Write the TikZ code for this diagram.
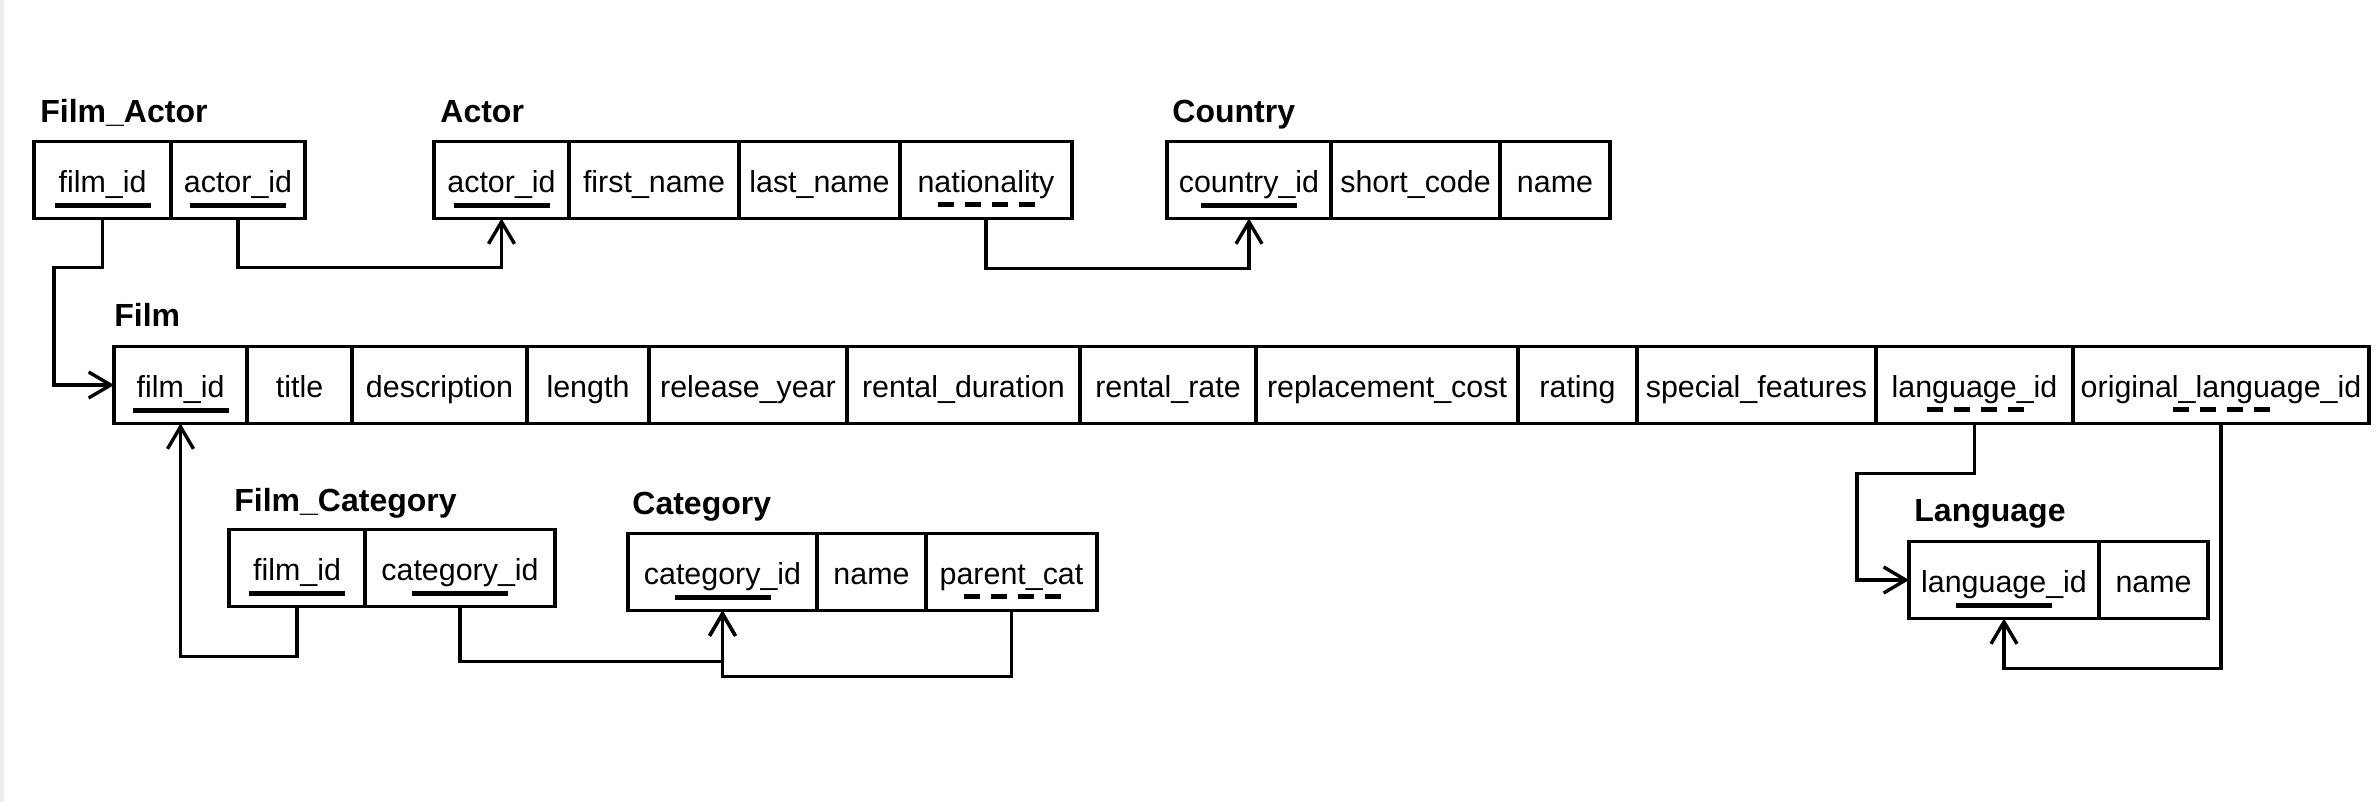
\documentclass[tikz,border=0pt]{standalone}
\usepackage{fontspec}
\setmainfont{Liberation Sans}
\usetikzlibrary{arrows.meta,positioning,calc}
\definecolor{rand}{RGB}{236,236,236}

\begin{document}
\begin{tikzpicture}[x=0.5pt, y=-0.5pt,
    feld/.style={draw, line width=1.9pt, inner sep=0pt, outer sep=0pt, minimum height=38.5pt,
        text height=13.5pt, text depth=1pt, font=\fontsize{15.2pt}{18pt}\selectfont},
    titel/.style={anchor=base west, inner sep=0pt, font=\fontsize{16pt}{19pt}\selectfont\bfseries},
    pk/.style={line width=2.1pt},
    fk/.style={line width=2.1pt, dash pattern=on 8pt off 5.5pt},
    bez/.style={line width=1.7pt, -{Straight Barb[length=11pt,width=13pt]}}]

    \fill[white] (0,0) rectangle (2376,802);
    \fill[rand] (0,0) rectangle (4,802);
    \useasboundingbox (0,0) rectangle (2376,802);

    % Film_Actor
    \node[feld, minimum width=68.5pt, anchor=west] (fa-film) at (34,180) {film\_id};
    \node[feld, minimum width=67pt, right=0pt of fa-film] (fa-actor) {actor\_id};
    \node[titel] (t-fa) at ($(fa-film.north west)+(6,-19)$) {Film\_Actor};

    % Actor
    \node[feld, minimum width=67.5pt, anchor=west] (a-id) at (434,180) {actor\_id};
    \node[feld, minimum width=85pt, right=0pt of a-id] (a-first) {first\_name};
    \node[feld, minimum width=80.5pt, right=0pt of a-first] (a-last) {last\_name};
    \node[feld, minimum width=86pt, right=0pt of a-last] (a-nat) {nationality};
    \node[titel] (t-a) at ($(a-id.north west)+(6,-19)$) {Actor};

    % Country
    \node[feld, minimum width=82pt, anchor=west] (c-id) at (1167,180) {country\_id};
    \node[feld, minimum width=84.5pt, right=0pt of c-id] (c-code) {short\_code};
    \node[feld, minimum width=55pt, right=0pt of c-code] (c-name) {name};
    \node[titel] (t-c) at ($(c-id.north west)+(5,-19)$) {Country};

    % Film
    \node[feld, minimum width=66.5pt, anchor=west] (f-film) at (114,385) {film\_id};
    \node[feld, minimum width=52.5pt, right=0pt of f-film] (f-title) {title};
    \node[feld, minimum width=87.5pt, right=0pt of f-title] (f-desc) {description};
    \node[feld, minimum width=61pt, right=0pt of f-desc] (f-len) {length};
    \node[feld, minimum width=99pt, right=0pt of f-len] (f-year) {release\_year};
    \node[feld, minimum width=116.5pt, right=0pt of f-year] (f-dur) {rental\_duration};
    \node[feld, minimum width=88pt, right=0pt of f-dur] (f-rate) {rental\_rate};
    \node[feld, minimum width=131pt, right=0pt of f-rate] (f-cost) {replacement\_cost};
    \node[feld, minimum width=59.5pt, right=0pt of f-cost] (f-rating) {rating};
    \node[feld, minimum width=119.5pt, right=0pt of f-rating] (f-spec) {special\_features};
    \node[feld, minimum width=98.5pt, right=0pt of f-spec] (f-lang) {language\_id};
    \node[feld, minimum width=148pt, right=0pt of f-lang] (f-orig) {original\_language\_id};
    \node[titel] (t-f) at ($(f-film.north west)+(0,-20)$) {Film};

    % Film_Category
    \node[feld, minimum width=68pt, anchor=west] (fc-film) at (229,568) {film\_id};
    \node[feld, minimum width=95pt, right=0pt of fc-film] (fc-cat) {category\_id};
    \node[titel] (t-fc) at ($(fc-film.north west)+(5,-18)$) {Film\_Category};

    % Category
    \node[feld, minimum width=94.5pt, anchor=west] (cat-id) at (628,572) {category\_id};
    \node[feld, minimum width=54.5pt, right=0pt of cat-id] (cat-name) {name};
    \node[feld, minimum width=85.5pt, right=0pt of cat-name] (cat-parent) {parent\_cat};
    \node[titel] (t-cat) at ($(cat-id.north west)+(4,-19)$) {Category};

    % Language
    \node[feld, minimum width=95pt, anchor=west] (l-id) at (1909,580) {language\_id};
    \node[feld, minimum width=54.5pt, right=0pt of l-id] (l-name) {name};
    \node[titel] (t-l) at ($(l-id.north west)+(5,-20)$) {Language};

    % Schluessel
    \draw[pk] ($(fa-film.south)+(-48,-13)$) -- ++(96,0);
    \draw[pk] ($(fa-actor.south)+(-48,-13)$) -- ++(96,0);
    \draw[pk] ($(a-id.south)+(-48,-13)$) -- ++(96,0);
    \draw[pk] ($(c-id.south)+(-48,-13)$) -- ++(96,0);
    \draw[pk] ($(f-film.south)+(-48,-13)$) -- ++(96,0);
    \draw[pk] ($(fc-film.south)+(-48,-13)$) -- ++(96,0);
    \draw[pk] ($(fc-cat.south)+(-48,-13)$) -- ++(96,0);
    \draw[pk] ($(cat-id.south)+(-48,-13)$) -- ++(96,0);
    \draw[pk] ($(l-id.south)+(-48,-13)$) -- ++(96,0);
    \draw[fk] ($(a-nat.south)+(-48,-14)$) -- ++(97,0);
    \draw[fk] ($(f-lang.south)+(-48,-14)$) -- ++(97,0);
    \draw[fk] ($(f-orig.south)+(-48,-14)$) -- ++(97,0);
    \draw[fk] ($(cat-parent.south)+(-48,-14)$) -- ++(97,0);

    % Beziehungen
    \draw[bez] (fa-film.south) -- ++(0,49) -| ($(f-film.west)+(-60,0)$) -- (f-film.west);
    \draw[bez] (fa-actor.south) -- ++(0,49) -| (a-id.south);
    \draw[bez] (a-nat.south) -- ++(0,50) -| (c-id.south);
    \draw[bez] (f-lang.south) -- ++(0,50) -| ($(l-id.west)+(-52,0)$) -- (l-id.west);
    \draw[bez] (f-orig.south) -- ++(0,245) -| (l-id.south);
    \draw[bez] (fc-film.south) -- ++(0,50) -| (f-film.south);
    \draw[bez] (fc-cat.south) -- ++(0,55) -| (cat-id.south);
    \draw[bez] (cat-parent.south) -- ++(0,66) -| (cat-id.south);

\end{tikzpicture}
\end{document}
